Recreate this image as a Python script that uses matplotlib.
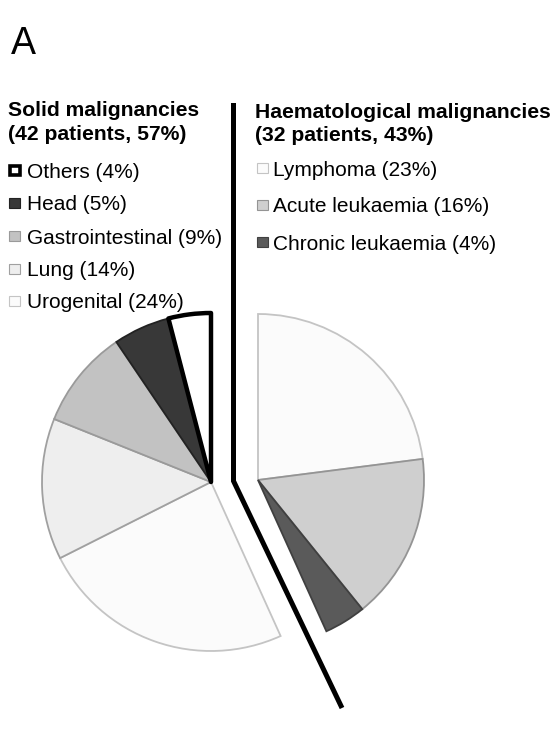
import matplotlib
matplotlib.use("Agg")
import matplotlib.pyplot as plt
from matplotlib.patches import Rectangle
import numpy as np

plt.rcParams['font.family'] = ['Liberation Sans', 'DejaVu Sans']

# ---- data ----
solid_labels = ["Urogenital", "Lung", "Gastrointestinal", "Head", "Others"]
solid_counts = [18, 10, 7, 4, 3]
solid_pct = [24, 14, 9, 5, 4]
haem_labels = ["Lymphoma", "Acute leukaemia", "Chronic leukaemia"]
haem_counts = [17, 12, 3]
haem_pct = [23, 16, 4]
solid_total, haem_total = 42, 32
solid_share, haem_share = 57, 43

# ---- style ----
solid_colors = ["#fbfbfb", "#eeeeee", "#c2c2c2", "#383838", "#ffffff"]
solid_edges = ["#c4c4c4", "#a0a0a0", "#9a9a9a", "#222222", "#000000"]
haem_colors = ["#fbfbfb", "#cfcfcf", "#5a5a5a"]
haem_edges = ["#c4c4c4", "#949494", "#404040"]

W, H = 560, 730
fig = plt.figure(figsize=(W / 100, H / 100), dpi=100)
ax = fig.add_axes([0, 0, 1, 1])

def Y(y):
    return H - y

total = solid_total + haem_total
haem_frac = [c / total for c in haem_counts]
solid_frac = [c / total for c in solid_counts]

# right (haematological) pie
w_h, _ = ax.pie(haem_frac, normalize=False, startangle=90, counterclock=False,
                center=(258, Y(480)), radius=166, colors=haem_colors,
                wedgeprops=dict(linewidth=1.3), frame=True)
for w, e in zip(w_h, haem_edges):
    w.set_edgecolor(e)

# left (solid) pie, starting where the haematological part ends
start = 90 - 360 * haem_total / total
w_s, _ = ax.pie(solid_frac, normalize=False, startangle=start, counterclock=False,
                center=(211, Y(482)), radius=169, colors=solid_colors,
                wedgeprops=dict(linewidth=1.3), frame=True)
for i, (w, e) in enumerate(zip(w_s, solid_edges)):
    w.set_edgecolor(e)
    if solid_labels[i] == "Others":
        w.set_linewidth(3.2)
        w.set_joinstyle('round')
        w.set_zorder(3)

# divider line
ax.plot([233.5, 233.5, 342], [Y(103), Y(481), Y(708)], color="black",
        lw=3.6, solid_joinstyle='miter', solid_capstyle='butt', zorder=4)

# panel label
ax.text(11, Y(54), "A", fontsize=27, va='baseline', ha='left')

# headers
fs_h = 15.2
ax.text(8, Y(116), "Solid malignancies", fontsize=fs_h, fontweight='bold', va='baseline')
ax.text(8, Y(140), f"({solid_total} patients, {solid_share}%)", fontsize=fs_h,
        fontweight='bold', va='baseline')
ax.text(255, Y(118), "Haematological malignancies", fontsize=fs_h, fontweight='bold',
        va='baseline')
ax.text(255, Y(141), f"({haem_total} patients, {haem_share}%)", fontsize=fs_h,
        fontweight='bold', va='baseline')

fs = 15.0
# left legend (reverse order: Others at top)
ys_left = [170, 203, 236, 269, 301]
order = list(range(len(solid_labels)))[::-1]
for y, i in zip(ys_left, order):
    if solid_labels[i] == "Others":
        ax.add_patch(Rectangle((9.5, Y(y + 4.5)), 10, 9, facecolor='white',
                               edgecolor='black', lw=2.6, zorder=5))
    else:
        ax.add_patch(Rectangle((9, Y(y + 5)), 11, 10, facecolor=solid_colors[i],
                               edgecolor=solid_edges[i], lw=0.8, zorder=5))
    ax.text(27, Y(y), f"{solid_labels[i]} ({solid_pct[i]}%)", fontsize=fs,
            va='center_baseline', ha='left')

ys_right = [168, 205, 242]
for y, i in zip(ys_right, range(len(haem_labels))):
    ax.add_patch(Rectangle((257, Y(y + 5)), 11, 10, facecolor=haem_colors[i],
                           edgecolor=haem_edges[i], lw=0.8, zorder=5))
    ax.text(273, Y(y), f"{haem_labels[i]} ({haem_pct[i]}%)", fontsize=fs,
            va='center_baseline', ha='left')

ax.set_xlim(0, W)
ax.set_ylim(0, H)
ax.set_aspect('equal')
ax.axis('off')
fig.savefig("out.png", dpi=100, facecolor='white')
